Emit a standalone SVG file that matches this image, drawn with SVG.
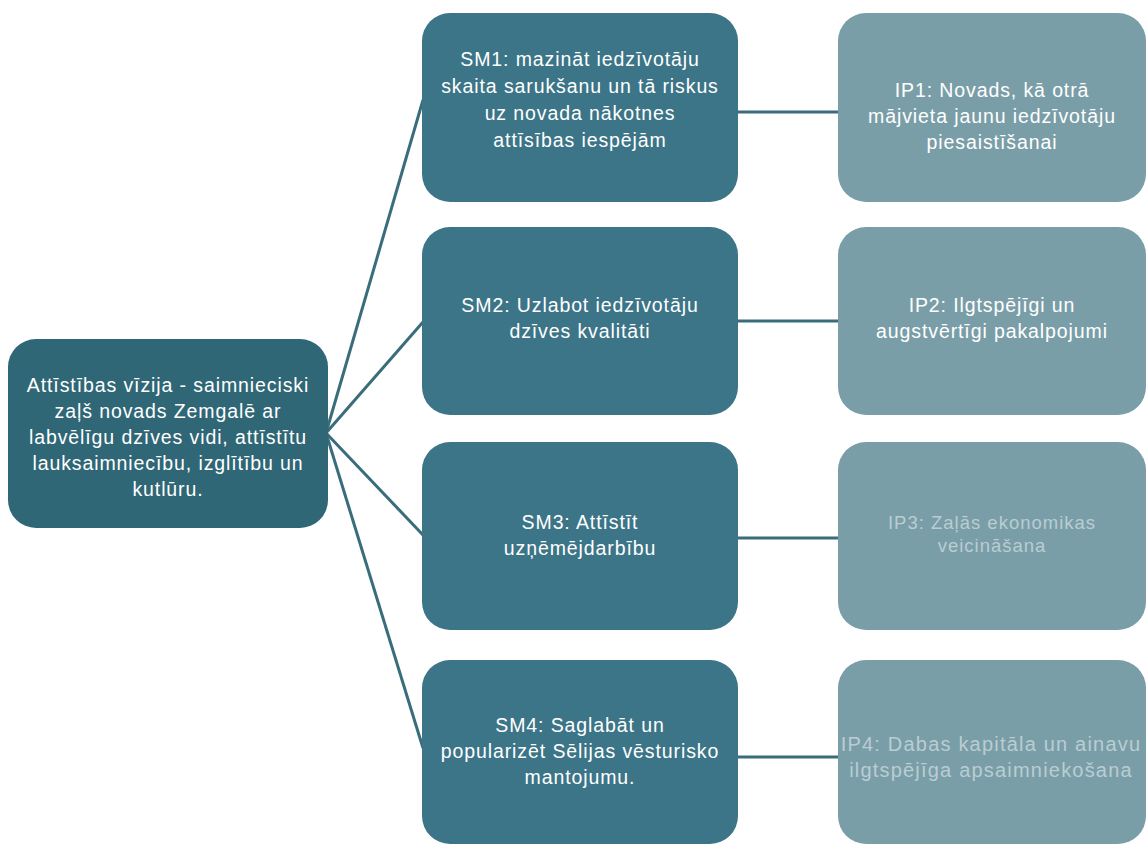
<svg xmlns="http://www.w3.org/2000/svg" width="1146" height="846" viewBox="0 0 1146 846">
<style>
.vis{fill:#2f6776}
.sm{fill:#3c7587}
.ip{fill:#7a9ea8}
.t{font-family:"Liberation Sans",Arial,sans-serif;font-size:19.5px;letter-spacing:0.9px;fill:#ffffff;text-anchor:middle}
.tf{font-family:"Liberation Sans",Arial,sans-serif;font-size:18.5px;letter-spacing:1px;fill:#b9cdd2;text-anchor:middle}
.ln{stroke:#3a6d7b;stroke-width:3;fill:none}
</style>
<rect x="0" y="0" width="1146" height="846" fill="#ffffff"/>
<g id="connectors">
<line class="ln" x1="326" y1="433" x2="423" y2="100"/>
<line class="ln" x1="326" y1="433" x2="423" y2="322"/>
<line class="ln" x1="326" y1="433" x2="423" y2="535"/>
<line class="ln" x1="326" y1="433" x2="423" y2="748"/>
<line class="ln" x1="737" y1="112" x2="839" y2="112"/>
<line class="ln" x1="737" y1="321" x2="839" y2="321"/>
<line class="ln" x1="737" y1="538" x2="839" y2="538"/>
<line class="ln" x1="737" y1="757" x2="839" y2="757"/>
</g>
<g id="vision">
<rect class="vis" x="8" y="339" width="320" height="189" rx="28"/>
<text class="t"><tspan x="168" y="392">Attīstības vīzija - saimnieciski</tspan><tspan x="168" y="418">zaļš novads Zemgalē ar</tspan><tspan x="168" y="444">labvēlīgu dzīves vidi, attīstītu</tspan><tspan x="168" y="470">lauksaimniecību, izglītību un</tspan><tspan x="168" y="496">kutlūru.</tspan></text>
</g>
<g id="sm1">
<rect class="sm" x="422" y="13" width="316" height="189" rx="28"/>
<text class="t"><tspan x="580" y="66">SM1: mazināt iedzīvotāju</tspan><tspan x="580" y="93">skaita sarukšanu un tā riskus</tspan><tspan x="580" y="120">uz novada nākotnes</tspan><tspan x="580" y="147">attīsības iespējām</tspan></text>
</g>
<g id="sm2">
<rect class="sm" x="422" y="227" width="316" height="188" rx="28"/>
<text class="t"><tspan x="580" y="312">SM2: Uzlabot iedzīvotāju</tspan><tspan x="580" y="338">dzīves kvalitāti</tspan></text>
</g>
<g id="sm3">
<rect class="sm" x="422" y="442" width="316" height="188" rx="28"/>
<text class="t"><tspan x="580" y="529">SM3: Attīstīt</tspan><tspan x="580" y="555">uzņēmējdarbību</tspan></text>
</g>
<g id="sm4">
<rect class="sm" x="422" y="660" width="316" height="184" rx="28"/>
<text class="t"><tspan x="580" y="732">SM4: Saglabāt un</tspan><tspan x="580" y="758">popularizēt Sēlijas vēsturisko</tspan><tspan x="580" y="784">mantojumu.</tspan></text>
</g>
<g id="ip1">
<rect class="ip" x="838" y="13" width="308" height="189" rx="28"/>
<text class="t"><tspan x="992" y="97">IP1: Novads, kā otrā</tspan><tspan x="992" y="123">mājvieta jaunu iedzīvotāju</tspan><tspan x="992" y="149">piesaistīšanai</tspan></text>
</g>
<g id="ip2">
<rect class="ip" x="838" y="227" width="308" height="188" rx="28"/>
<text class="t"><tspan x="992" y="312">IP2: Ilgtspējīgi un</tspan><tspan x="992" y="338">augstvērtīgi pakalpojumi</tspan></text>
</g>
<g id="ip3">
<rect class="ip" x="838" y="442" width="308" height="188" rx="28"/>
<text class="tf"><tspan x="992" y="529">IP3: Zaļās ekonomikas</tspan><tspan x="992" y="552">veicināšana</tspan></text>
</g>
<g id="ip4">
<rect class="ip" x="838" y="660" width="308" height="184" rx="28"/>
<text class="tf" style="font-size:20px;letter-spacing:1.2px"><tspan x="991" y="751">IP4: Dabas kapitāla un ainavu</tspan><tspan x="991" y="777">ilgtspējīga apsaimniekošana</tspan></text>
</g>
</svg>
